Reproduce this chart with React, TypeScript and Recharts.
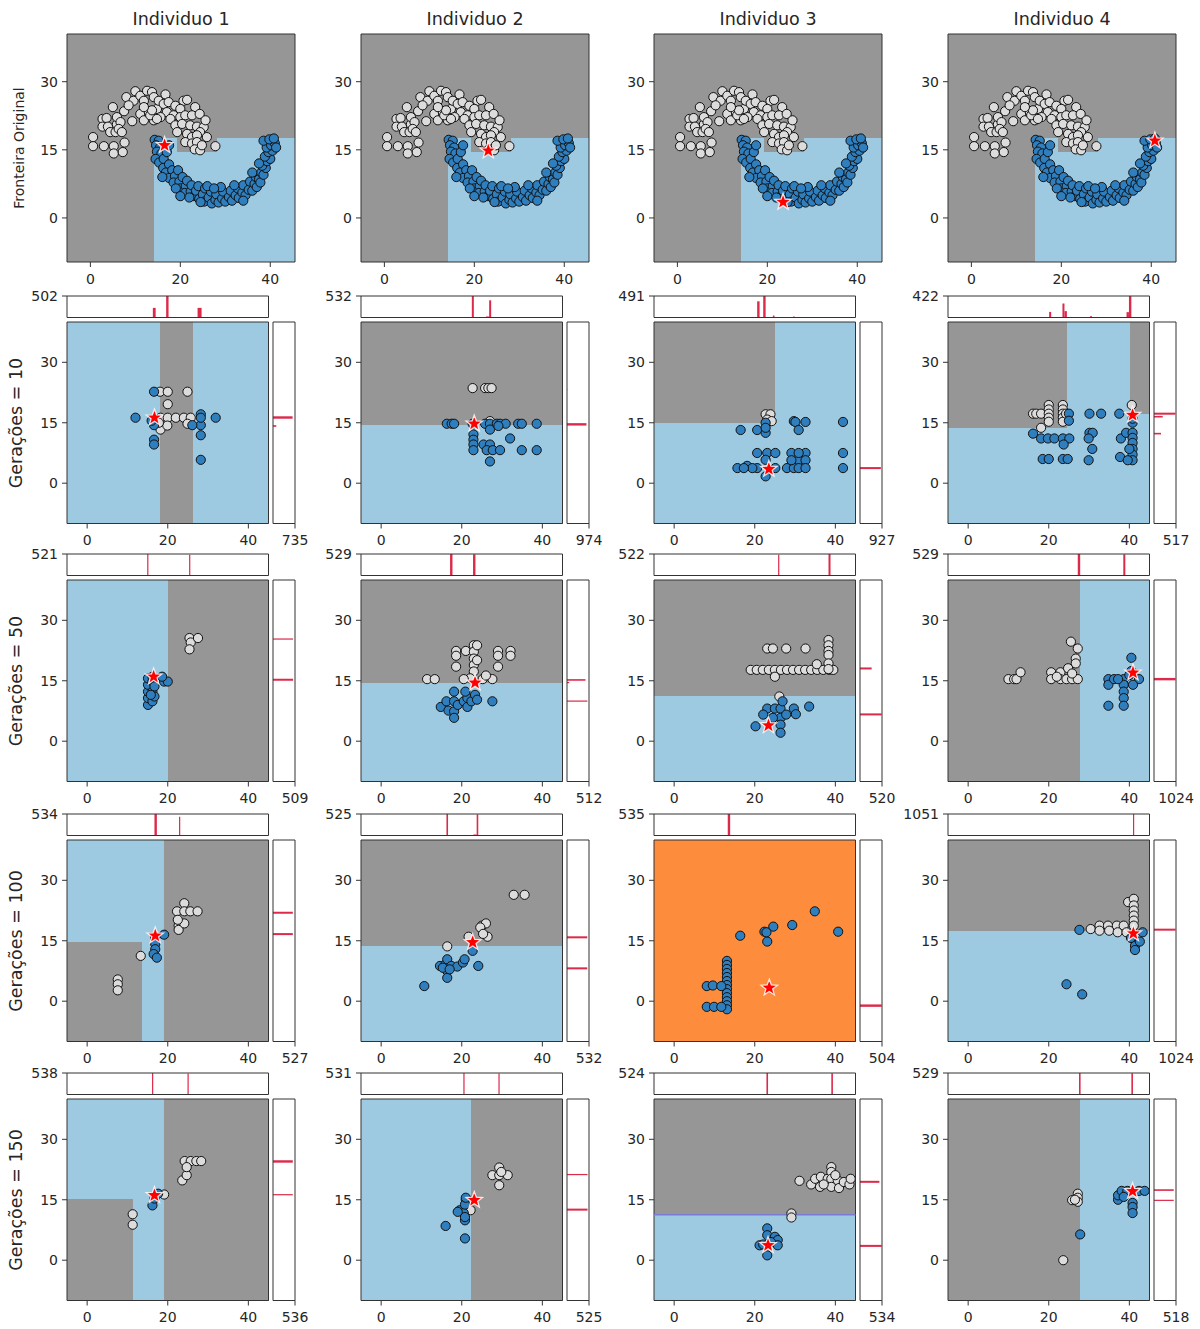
import React from 'react';
import { ScatterChart, Scatter, XAxis, YAxis, ReferenceArea, ReferenceLine } from 'recharts';

type Pt = [number, number];
type Patch = { x1?: number; x2?: number; y1?: number; y2?: number; c: string };
type Bin = [number, number, number];

// ---------- text ----------
const COLUMN_TITLES = ['Individuo 1', 'Individuo 2', 'Individuo 3', 'Individuo 4'];
const ROW_LABELS = ['Fronteira Original', 'Gerações = 10', 'Gerações = 50', 'Gerações = 100', 'Gerações = 150'];
const X_TICKS = [0, 20, 40];
const Y_TICKS = [0, 15, 30];

// ---------- row 1: original data set ----------
const moonWhite: Pt[] = [
  [0.6, 17.8], [0.6, 15.8], [3.0, 15.8], [5.2, 15.8], [5.2, 14.2], [7.2, 14.5], [7.6, 16.6], [2.7, 21.8], [3.6, 22.0],
  [2.7, 20.1], [3.9, 20.1], [4.4, 18.9], [5.6, 18.9], [5.9, 20.6], [5.0, 24.4], [5.9, 22.2], [6.7, 21.1], [6.3, 19.6],
  [7.0, 18.9], [8.0, 26.6], [9.6, 25.8], [10.0, 27.9], [11.1, 26.9], [12.6, 28.0], [13.7, 27.7], [11.9, 25.8], [14.1, 26.6],
  [9.3, 21.3], [11.1, 22.9], [11.9, 21.5], [13.0, 23.3], [14.1, 21.5], [14.8, 24.0], [15.2, 25.8], [16.7, 27.2], [16.3, 25.1],
  [17.4, 25.5], [18.9, 24.7], [17.0, 23.3], [18.5, 22.6], [20.7, 25.8], [21.5, 26.0], [20.0, 24.0], [15.6, 22.2], [17.8, 21.8],
  [20.0, 22.2], [21.1, 22.6], [23.3, 24.4], [22.6, 22.6], [24.3, 22.9], [18.9, 20.4], [20.4, 20.7], [22.2, 20.4], [23.7, 20.1],
  [25.2, 20.0], [25.6, 21.5], [24.4, 18.9], [25.9, 17.8], [19.3, 18.9], [21.5, 18.5], [22.6, 17.8], [23.7, 18.2], [21.1, 16.7],
  [22.6, 16.4], [23.7, 16.7], [23.2, 15.1], [24.4, 14.9], [27.8, 15.8], [24.8, 16.0], [13.3, 22.6], [14.8, 21.8], [13.7, 23.7],
  [11.9, 24.4], [7.5, 23.5], [8.5, 24.8],
];
const moonBlue: Pt[] = [
  [14.3, 17.2], [15.2, 17.0], [14.6, 16.0], [15.5, 15.5], [14.8, 14.6], [15.8, 14.2], [14.5, 13.0], [15.3, 12.2], [16.3, 13.0],
  [17.0, 14.5], [17.5, 16.0], [16.2, 11.0], [17.5, 11.8], [16.8, 10.0], [18.2, 10.5], [17.5, 8.8], [18.8, 9.2], [19.5, 10.5],
  [18.5, 7.8], [19.8, 8.0], [20.5, 9.0], [20.0, 6.5], [21.2, 7.0], [21.5, 8.2], [21.0, 5.5], [22.3, 5.8], [22.5, 7.2],
  [23.0, 4.8], [23.5, 6.0], [24.0, 7.0], [24.2, 4.2], [25.0, 5.2], [25.5, 6.5], [25.3, 3.6], [26.3, 4.5], [26.8, 5.8],
  [27.0, 3.2], [27.8, 4.0], [28.0, 5.2], [28.5, 3.4], [29.3, 4.3], [29.5, 5.8], [30.0, 3.6], [30.8, 4.6], [31.2, 6.0],
  [31.5, 3.8], [32.3, 5.0], [32.8, 6.5], [33.0, 4.4], [33.8, 5.6], [34.0, 7.2], [34.5, 5.0], [35.2, 6.2], [35.5, 8.0],
  [36.0, 6.0], [36.5, 7.5], [36.8, 9.0], [37.0, 6.8], [37.5, 8.5], [38.0, 10.0], [37.8, 7.8], [38.5, 9.5], [39.0, 11.0],
  [38.2, 11.5], [39.3, 12.5], [40.0, 13.0], [38.8, 13.5], [39.6, 14.5], [40.5, 14.8], [39.2, 15.5], [40.2, 16.0], [41.0, 16.5],
  [38.5, 17.0], [39.8, 17.3], [40.8, 17.5], [41.3, 15.5], [37.5, 12.0], [36.0, 10.0], [22.0, 4.5], [19.0, 6.5], [26.0, 7.0],
  [29.0, 6.8], [32.0, 7.2], [16.0, 9.0], [20.0, 4.8], [34.0, 3.8], [24.5, 3.5], [27.5, 6.5],
];
const originalStars: Pt[] = [[16.5, 16], [23.1, 14.8], [23.5, 3.5], [40.8, 17]];
const originalBackground = 'gray';
const originalPatches: Patch[] = [
  { x1: 14.2, y2: 17.7, c: 'blue' },
  { x1: 19.3, x2: 28.2, y1: 14.5, y2: 17.7, c: 'gray' },
];

// ---------- Gerações = 10 ----------
const gen10Background = ['blue', 'gray', 'blue', 'blue'];
const gen10Patches: Patch[][] = [
  [{ x1: 18.0, x2: 26.3, c: 'gray' }],
  [{ y2: 14.4, c: 'blue' }],
  [{ x2: 25.1, y1: 15.0, c: 'gray' }],
  [{ x2: 24.6, y1: 13.6, c: 'gray' }, { x1: 40.2, y1: 17.1, c: 'gray' }],
];
const gen10White: Pt[][] = [
  [[18.1, 22.7], [20, 22.7], [24.9, 22.7], [20, 19.6], [18.2, 16.25], [20, 16.25], [22, 16.25], [24, 16.25], [25.7, 16.25], [24.9, 14.75], [18.2, 13.3], [19.9, 14.3], [17.8, 15]],
  [[22.7, 23.6], [25.8, 23.6], [26.6, 23.6], [27.4, 23.6], [27, 15.4]],
  [[22.7, 17.1], [23.9, 17.1], [23.1, 15.8], [24.2, 15.4]],
  [[16.1, 17.25], [16.9, 17.25], [18.1, 17.25], [20, 19.4], [20, 18.3], [20, 17.25], [20, 16.25], [20, 15.25], [18.1, 13.75], [23.5, 19.4], [23.5, 18.3], [23.5, 17.25], [23.5, 16.25], [23.5, 15.25], [24.3, 17.25], [40.6, 19.4]],
];
const gen10Blue: Pt[][] = [
  [[12, 16.25], [16.6, 22.7], [16.6, 14.4], [16.6, 10.8], [16.6, 9.6], [28.2, 5.8], [28.2, 11.9], [28.2, 14.4], [28.2, 17.1], [28.2, 16.25], [31.9, 16.25], [26.1, 14.4], [16, 15.5]],
  [[16.3, 14.75], [17.5, 14.75], [18.1, 14.75], [22.7, 14.75], [25.8, 14.75], [27, 14.75], [28.7, 14.75], [29.5, 14.75], [30.9, 14.75], [34, 14.75], [34.9, 14.75], [38.6, 14.75], [27, 13.3], [29.1, 14.2], [22.9, 12.1], [22.9, 10.8], [22.9, 9.6], [22.9, 8.2], [25.4, 9.6], [27, 9.6], [26.2, 8.2], [27.7, 8.2], [29.5, 8.2], [32, 11.1], [34.9, 8.2], [38.6, 8.2], [27, 5.4]],
  [[16.5, 13.2], [20.6, 13.2], [22.7, 15], [22.7, 12.5], [22.7, 13.75], [29.7, 15.4], [30.1, 15.2], [30.9, 13.2], [32.6, 15.2], [41.9, 15.2], [41.9, 7.5], [41.9, 3.75], [20.6, 7.5], [23.1, 7.5], [25.1, 7.5], [29.1, 7.5], [32.6, 7.5], [30.9, 5.7], [32.6, 5.7], [15.7, 3.75], [18.1, 4.3], [20.6, 3.75], [22.7, 1.7], [25.1, 3.75], [28, 3.75], [29.7, 3.75], [30.9, 3.75], [32.6, 3.75], [19.4, 3.75], [17.3, 3.75], [22.7, 5.8], [30.9, 7.5], [29.1, 5.7]],
  [[16.1, 12.3], [18.1, 11.1], [19.8, 11.1], [21.4, 11.1], [23.5, 11.1], [25.1, 11.1], [23.7, 9.6], [18.5, 6], [20, 6], [23.5, 6], [24.7, 6], [30.1, 17.25], [33, 17.25], [30.1, 12.5], [30.9, 12.5], [29.9, 11.1], [30.8, 8.5], [29.9, 5.7], [37.5, 17.25], [37.9, 11.1], [37.7, 6.5], [39.2, 12.5], [40.8, 12.5], [40.8, 11.25], [40.8, 10], [40.8, 8.5], [40.8, 7.1], [40.8, 5.7], [39.6, 5.7], [40, 8.5], [40.8, 15], [40.8, 16], [25.0, 17.25], [25.0, 15.5]],
];
const gen10Star: Pt[] = [[16.7, 16.25], [23.1, 14.75], [23.5, 3.5], [40.8, 16.9]];
const gen10TopHist: Bin[][] = [
  [[16.3, 17.0, 225], [19.6, 20.2, 502], [27.4, 28.4, 225]],
  [[22.5, 23.0, 532], [26.8, 27.3, 425], [26.0, 26.8, 25]],
  [[20.6, 21.2, 370], [22.1, 22.7, 491], [24.5, 24.9, 45], [29.5, 29.9, 20]],
  [[20.1, 20.6, 110], [23.4, 23.9, 275], [23.9, 24.5, 125], [30.3, 30.7, 30], [39.3, 39.9, 105], [39.9, 40.5, 422]],
];
const gen10TopMax = [502, 532, 491, 422];
const gen10RightHist: Bin[][] = [
  [[16.0, 16.6, 655], [14.0, 14.4, 110]],
  [[14.3, 14.9, 860], [23.1, 23.4, 12]],
  [[3.5, 4.0, 880]],
  [[17.0, 17.5, 500], [16.3, 16.7, 205], [12.1, 12.5, 165]],
];
const gen10RightMax = [735, 974, 927, 517];

// ---------- Gerações = 50 ----------
const gen50Background = ['blue', 'gray', 'gray', 'gray'];
const gen50Patches: Patch[][] = [
  [{ x1: 20.0, c: 'gray' }],
  [{ y2: 14.5, c: 'blue' }],
  [{ y2: 11.1, c: 'blue' }],
  [{ x1: 27.7, c: 'blue' }],
];
const gen50White: Pt[][] = [
  [[25.4, 25.6], [25.7, 24.5], [25.4, 22.8], [27.5, 25.6]],
  [[11.4, 15.4], [13.3, 15.4], [18.6, 22.4], [18.6, 21.2], [18.6, 18.5], [21, 22.4], [23, 23.8], [23, 22.2], [23, 20.5], [23, 18.9], [23, 17.3], [22.1, 15.6], [25.2, 15.4], [27.6, 15.4], [26, 16.3], [20.5, 15.4], [29, 22.4], [29, 21.2], [29, 18.5], [32.1, 22.4], [32.1, 21.2], [23.8, 23.8], [23.8, 20.1]],
  [[19, 17.7], [20.5, 17.7], [22, 17.7], [23.5, 17.7], [25, 17.7], [26.5, 17.7], [28, 17.7], [29.5, 17.7], [31, 17.7], [32.5, 17.7], [34, 17.7], [35.5, 17.7], [37, 17.7], [38.5, 17.7], [39.5, 17.7], [23.1, 23], [24.5, 23], [27.8, 23], [32.6, 23], [38.3, 25.1], [38.3, 23.8], [38.3, 22.4], [38.3, 21.4], [38.3, 19.3], [35.4, 19.1], [25, 16], [38.3, 17.9], [26.1, 11.1]],
  [[10, 15.4], [11.4, 15.4], [12, 15.4], [13, 17.1], [20.6, 17.1], [20.6, 15.4], [22.9, 17.1], [22.9, 15.4], [24.4, 15.4], [25.8, 15.4], [27.2, 15.4], [25.5, 24.7], [27.2, 23], [26.7, 20.5], [26.7, 19.3], [24.8, 18.1], [25.8, 16.8], [22, 16]],
];
const gen50Blue: Pt[][] = [
  [[15.1, 9.0], [15.1, 10.7], [15.1, 12.3], [15.1, 14], [15.1, 15.6], [16.2, 9.9], [16.2, 12.3], [16.2, 14.8], [16.2, 16], [16.7, 11.1], [16.7, 13.6], [15.8, 11.5], [19.1, 14.8], [20, 14.8], [18.6, 16]],
  [[14.8, 8.5], [16.2, 9.9], [16.7, 7.6], [18.1, 12.3], [18.1, 9.9], [18.1, 7.4], [18.1, 5.8], [19, 9], [20.5, 9.9], [21.4, 8.5], [21.4, 10.7], [22.4, 9.9], [23.3, 11.5], [23.8, 10.3], [27.6, 9.9], [20.9, 12.3]],
  [[20.2, 3.7], [23.1, 8.1], [25, 8.1], [26.4, 8.1], [22.1, 6.6], [26.4, 5.8], [26.4, 4.1], [26.4, 2.1], [26.9, 9.9], [29.7, 8.1], [30.2, 6.7], [33.5, 8.6], [27.8, 6.6], [24.5, 5.8]],
  [[34.8, 15.4], [34.8, 14], [36.2, 15.4], [34.8, 8.8], [38.6, 15.4], [38.6, 14], [38.6, 12.3], [38.6, 10.7], [38.6, 8.8], [40.5, 20.7], [40.5, 17.4], [42.4, 15.4], [40.9, 14], [40, 16.4], [37.2, 15.4]],
];
const gen50Star: Pt[] = [[16.5, 16], [23.3, 14.5], [23.4, 3.9], [40.9, 17]];
const gen50TopHist: Bin[][] = [
  [[14.9, 15.2, 521], [25.3, 25.6, 505]],
  [[17.1, 17.7, 529], [22.8, 23.4, 520]],
  [[25.8, 26.1, 505], [38.3, 38.8, 522]],
  [[27.2, 27.8, 529], [38.5, 39.0, 520]],
];
const gen50TopMax = [521, 529, 522, 529];
const gen50RightHist: Bin[][] = [
  [[25.2, 25.5, 465], [15.0, 15.5, 465]],
  [[15.0, 15.4, 430], [14.4, 14.7, 50], [9.8, 10.1, 475]],
  [[17.8, 18.3, 275], [6.4, 6.9, 510]],
  [[15.1, 15.7, 1000]],
];
const gen50RightMax = [509, 512, 520, 1024];

// ---------- Gerações = 100 ----------
const gen100Background = ['gray', 'gray', 'orange', 'gray'];
const gen100Patches: Patch[][] = [
  [{ x1: 13.7, x2: 19.0, c: 'blue' }, { x2: 13.7, y1: 14.75, c: 'blue' }],
  [{ y2: 13.6, c: 'blue' }],
  [],
  [{ y2: 17.3, c: 'blue' }],
];
const gen100White: Pt[][] = [
  [[13.3, 11.25], [7.6, 5.4], [7.6, 4.2], [7.6, 2.7], [22.3, 22.3], [24.1, 24.3], [24.1, 22.3], [25.6, 22.3], [27.4, 22.3], [22.7, 18.75], [22.7, 17.7], [24.1, 19.3], [22.5, 20.2]],
  [[32.9, 26.4], [35.6, 26.4], [16.4, 13.6], [25, 18.75], [26, 19.3], [24.6, 18.3], [26.4, 16], [25.3, 16.7], [21.7, 16]],
  [],
  [[30.4, 17.9], [32.6, 18.75], [34.7, 18.75], [36.9, 18.75], [38.6, 18.75], [32.6, 17.5], [35, 17.5], [37.1, 17.1], [39.3, 17.1], [39.7, 24.6], [41.1, 25.4], [41.1, 23.75], [41.1, 22.5], [41.1, 21.25], [41.1, 20], [41.1, 18.75]],
];
const gen100Blue: Pt[][] = [
  [[16.9, 15.8], [16.9, 14.2], [16.9, 12.9], [16.5, 11.7], [17.3, 10.8], [19.1, 16.5]],
  [[10.7, 3.75], [14.6, 8.75], [16, 9.2], [16.4, 10.4], [16.4, 7.5], [16.4, 5.8], [17.4, 8.75], [18.9, 8.6], [20.3, 9.6], [20.7, 10.4], [22.7, 12.5], [24.1, 8.75], [15.3, 8.3], [17, 7.9]],
  [[16.4, 16.25], [22.4, 17.25], [23.1, 14.8], [24.6, 18.5], [29.3, 18.9], [34.9, 22.3], [40.7, 17.25], [22.9, 17.1], [13.1, 10], [13.1, 9], [13.1, 8], [13.1, 7], [13.1, 6], [13.1, 5], [13.1, 4], [13.1, 3], [13.1, 2], [13.1, 1], [13.1, 0], [13.1, -1], [13.1, -2], [8.1, 3.75], [9.6, 3.9], [11.7, 3.75], [8.1, -1.4], [9.9, -1.4], [11.7, -1.4]],
  [[27.6, 17.7], [24.4, 4.2], [28.3, 1.7], [41.4, 15], [41.4, 13.75], [41.4, 12.7], [42.6, 14.8], [43.3, 17.1], [40.4, 15.7]],
];
const gen100Star: Pt[] = [[16.9, 16.25], [22.7, 14.6], [23.6, 3.3], [41, 16.8]];
const gen100TopHist: Bin[][] = [
  [[16.7, 17.3, 534], [22.8, 23.1, 465]],
  [[16.2, 16.6, 525], [23.7, 24.1, 515], [22.9, 23.7, 25]],
  [[13.3, 13.9, 535]],
  [[40.9, 41.2, 1051]],
];
const gen100TopMax = [534, 525, 535, 1051];
const gen100RightHist: Bin[][] = [
  [[21.7, 22.2, 475], [16.4, 16.9, 475]],
  [[15.6, 16.1, 490], [7.9, 8.4, 490]],
  [[-1.4, -0.8, 495]],
  [[17.5, 18.0, 1000]],
];
const gen100RightMax = [527, 532, 504, 1024];

// ---------- Gerações = 150 ----------
const gen150Background = ['gray', 'blue', 'gray', 'gray'];
const gen150Patches: Patch[][] = [
  [{ x1: 11.5, x2: 19.1, c: 'blue' }, { x2: 11.5, y1: 15.1, c: 'blue' }],
  [{ x1: 22.2, c: 'gray' }],
  [{ y2: 11.3, c: 'blue' }],
  [{ x1: 27.7, c: 'blue' }],
];
const gen150Boundary: (number | null)[] = [null, null, 11.3, null];
const gen150White: Pt[][] = [
  [[11.3, 11.4], [11.3, 8.8], [23.6, 19.8], [24.7, 21.1], [24.2, 24.6], [25.7, 24.6], [27.1, 24.6], [28.3, 24.6], [24.7, 23.1], [19.1, 16.3]],
  [[27.6, 21.1], [29.3, 23], [29.3, 21.1], [29.3, 18.6], [31.4, 21.1], [29.8, 21.9], [22.2, 12.4], [21, 15]],
  [[31.1, 19.7], [34, 18.8], [35, 20.2], [36.4, 20.7], [36.2, 18.2], [38.1, 20.2], [39, 23.1], [39, 21.9], [39, 20.2], [39, 18.2], [40.6, 19.8], [40.9, 17.9], [42.1, 19.4], [43.5, 18.8], [43.8, 20.2], [40, 21.1], [29.1, 11.6], [29.1, 10.6], [37.1, 18.8]],
  [[23.6, 0], [25.8, 14.9], [27.2, 16.5], [27.2, 15.5], [27.2, 14.5], [26.5, 15]],
];
const gen150Blue: Pt[][] = [
  [[16.2, 13.6], [16.7, 15.3], [17.6, 16.5]],
  [[16, 8.5], [19.5, 12.4], [20.5, 11.7], [20.8, 9.9], [20.8, 10.7], [20.8, 13.8], [21, 15.5], [20.8, 5.4], [19, 12]],
  [[21.2, 3.7], [23.1, 7.9], [23.1, 6.2], [25, 5.8], [25.7, 5], [25.7, 3.7], [23.1, 1.2], [22.1, 3.9], [24, 4.5]],
  [[27.8, 6.4], [37.2, 15], [37.2, 16.1], [38.1, 17.2], [39.5, 17.2], [40.8, 14.2], [40.8, 13.2], [40.8, 11.7], [42.4, 17.2], [43.8, 17.2], [38.6, 15.7]],
];
const gen150Star: Pt[] = [[16.7, 16.1], [23.1, 14.9], [23.3, 3.7], [40.8, 17.1]];
const gen150TopHist: Bin[][] = [
  [[16.1, 16.4, 538], [24.9, 25.2, 525]],
  [[20.4, 20.7, 531], [29.1, 29.4, 520]],
  [[22.9, 23.3, 524], [39.0, 39.4, 515]],
  [[27.5, 27.9, 529], [40.5, 40.9, 520]],
];
const gen150TopMax = [538, 531, 524, 529];
const gen150RightHist: Bin[][] = [
  [[24.2, 24.8, 482], [16.1, 16.4, 482]],
  [[21.1, 21.4, 490], [12.3, 12.8, 490]],
  [[19.2, 19.7, 470], [3.3, 3.8, 525]],
  [[17.2, 17.6, 465], [14.7, 15.0, 465]],
];
const gen150RightMax = [536, 525, 534, 518];

// ---------- styling / layout ----------
const REGION: Record<string, string> = { gray: '#969696', blue: '#9ecae1', orange: '#fd8d3c' };
const WHITE_PT = '#dcdcdc';
const BLUE_PT = '#2f7fbf';
const HIST = '#dc2a4a';
const EDGE = '#333333';
const TXT = '#262626';
const FONT = '"DejaVu Sans", "Liberation Sans", sans-serif';

const COL_LEFT = [67, 361, 654, 948];
const ROW1_TOP = 34;
const ROW1_SIZE = 228;
const GEN_TOP = [322, 580, 840, 1099];
const MAIN = 201.5;
const HIST_H = 21.5;
const X_DOMAIN_1: [number, number] = [-5.2, 45.5];
const Y_DOMAIN_1: [number, number] = [-9.7, 40.5];
const X_DOMAIN: [number, number] = [-5, 45];
const Y_DOMAIN: [number, number] = [-10, 40];

const toObj = (a: Pt[]) => a.map(([x, y]) => ({ x, y }));

const makeDot = (fill: string) => (p: any) => (
  <circle cx={p.cx} cy={p.cy} r={4.6} fill={fill} stroke="#111" strokeWidth={1} />
);
const starShape = (p: any) => {
  const pts: string[] = [];
  for (let i = 0; i < 10; i++) {
    const a = -Math.PI / 2 + (i * Math.PI) / 5;
    const rr = i % 2 === 0 ? 8.6 : 3.6;
    pts.push(`${p.cx + rr * Math.cos(a)},${p.cy + rr * Math.sin(a)}`);
  }
  return <polygon points={pts.join(' ')} fill="#ff0000" stroke="#ffffff" strokeOpacity={0.85} strokeWidth={1.3} strokeLinejoin="miter" />;
};
const whiteDot = makeDot(WHITE_PT);
const blueDot = makeDot(BLUE_PT);

const tickStyle = { fill: TXT, fontSize: 14 };

function MainPanel(props: {
  left: number; top: number; size: number; xd: [number, number]; yd: [number, number];
  bg: string; patches: Patch[]; white: Pt[]; blue: Pt[]; star: Pt; boundary?: number | null;
}) {
  const { left, top, size, xd, yd, bg, patches, white, blue, star, boundary } = props;
  const PL = 52, PT = 8, PR = 8, PB = 34;
  return (
    <div style={{ position: 'absolute', left: left - PL, top: top - PT }}>
      <ScatterChart width={size + PL + PR} height={size + PT + PB} margin={{ top: PT, right: PR, bottom: 0, left: 0 }}>
        <XAxis type="number" dataKey="x" domain={xd} ticks={X_TICKS} interval={0} allowDataOverflow height={PB}
          tickSize={5} tickMargin={7} axisLine={false} tickLine={{ stroke: EDGE }} tick={tickStyle} />
        <YAxis type="number" dataKey="y" domain={yd} ticks={Y_TICKS} interval={0} allowDataOverflow width={PL}
          tickSize={5} tickMargin={4} axisLine={false} tickLine={{ stroke: EDGE }} tick={tickStyle} />
        <ReferenceArea x1={xd[0]} x2={xd[1]} y1={yd[0]} y2={yd[1]} fill={REGION[bg]} fillOpacity={1} stroke="none" shapeRendering="crispEdges" />
        {patches.map((p, i) => (
          <ReferenceArea key={i} x1={p.x1 ?? xd[0]} x2={p.x2 ?? xd[1]} y1={p.y1 ?? yd[0]} y2={p.y2 ?? yd[1]}
            fill={REGION[p.c]} fillOpacity={1} stroke="none" ifOverflow="hidden" shapeRendering="crispEdges" />
        ))}
        {boundary != null && <ReferenceLine y={boundary} stroke="#7b7bd6" strokeWidth={1.5} />}
        <ReferenceArea x1={xd[0]} x2={xd[1]} y1={yd[0]} y2={yd[1]} fill="none" stroke={EDGE} strokeWidth={1} />
        <Scatter data={toObj(white)} shape={whiteDot} isAnimationActive={false} />
        <Scatter data={toObj(blue)} shape={blueDot} isAnimationActive={false} />
        <Scatter data={toObj([star])} shape={starShape} isAnimationActive={false} />
      </ScatterChart>
    </div>
  );
}

function TopHist(props: { left: number; top: number; w: number; h: number; xd: [number, number]; bins: Bin[]; max: number }) {
  const { left, top, w, h, xd, bins, max } = props;
  const PL = 52, PT = 9, PR = 4, PB = 2;
  return (
    <div style={{ position: 'absolute', left: left - PL, top: top - PT }}>
      <ScatterChart width={w + PL + PR} height={h + PT + PB} margin={{ top: PT, right: PR, bottom: PB, left: 0 }}>
        <XAxis type="number" dataKey="x" domain={xd} allowDataOverflow hide />
        <YAxis type="number" dataKey="y" domain={[0, max]} ticks={[max]} interval={0} allowDataOverflow width={PL}
          tickSize={5} tickMargin={4} axisLine={false} tickLine={{ stroke: EDGE }} tick={tickStyle} />
        {bins.map(([x0, x1, c], i) => (
          <ReferenceArea key={i} x1={x0} x2={x1} y1={0} y2={c} fill={HIST} fillOpacity={1} stroke="none" />
        ))}
        <ReferenceArea x1={xd[0]} x2={xd[1]} y1={0} y2={max} fill="none" stroke={EDGE} strokeWidth={1} />
        <Scatter data={[]} isAnimationActive={false} />
      </ScatterChart>
    </div>
  );
}

function RightHist(props: { left: number; top: number; w: number; h: number; yd: [number, number]; bins: Bin[]; max: number }) {
  const { left, top, w, h, yd, bins, max } = props;
  const PL = 2, PT = 2, PR = 22, PB = 34;
  return (
    <div style={{ position: 'absolute', left: left - PL, top: top - PT }}>
      <ScatterChart width={w + PL + PR} height={h + PT + PB} margin={{ top: PT, right: PR, bottom: 0, left: PL }}>
        <XAxis type="number" dataKey="x" domain={[0, max]} ticks={[max]} interval={0} allowDataOverflow height={PB}
          tickSize={5} tickMargin={7} axisLine={false} tickLine={{ stroke: EDGE }} tick={tickStyle} />
        <YAxis type="number" dataKey="y" domain={yd} allowDataOverflow hide />
        {bins.map(([y0, y1, c], i) => (
          <ReferenceArea key={i} x1={0} x2={c} y1={y0} y2={y1} fill={HIST} fillOpacity={1} stroke="none" />
        ))}
        <ReferenceArea x1={0} x2={max} y1={yd[0]} y2={yd[1]} fill="none" stroke={EDGE} strokeWidth={1} />
        <Scatter data={[]} isAnimationActive={false} />
      </ScatterChart>
    </div>
  );
}

const NO_LINES: (number | null)[] = [null, null, null, null];
const GENS = [
  { bg: gen10Background, patches: gen10Patches, white: gen10White, blue: gen10Blue, star: gen10Star, top: gen10TopHist, topMax: gen10TopMax, right: gen10RightHist, rightMax: gen10RightMax, boundary: NO_LINES },
  { bg: gen50Background, patches: gen50Patches, white: gen50White, blue: gen50Blue, star: gen50Star, top: gen50TopHist, topMax: gen50TopMax, right: gen50RightHist, rightMax: gen50RightMax, boundary: NO_LINES },
  { bg: gen100Background, patches: gen100Patches, white: gen100White, blue: gen100Blue, star: gen100Star, top: gen100TopHist, topMax: gen100TopMax, right: gen100RightHist, rightMax: gen100RightMax, boundary: NO_LINES },
  { bg: gen150Background, patches: gen150Patches, white: gen150White, blue: gen150Blue, star: gen150Star, top: gen150TopHist, topMax: gen150TopMax, right: gen150RightHist, rightMax: gen150RightMax, boundary: gen150Boundary },
];

function RotLabel({ text, cx, cy, size }: { text: string; cx: number; cy: number; size: number }) {
  return (
    <div style={{
      position: 'absolute', left: cx, top: cy, transform: 'translate(-50%, -50%) rotate(-90deg)',
      whiteSpace: 'nowrap', fontSize: size, color: TXT, lineHeight: 1,
    }}>{text}</div>
  );
}

export default function App() {
  return (
    <div style={{ position: 'absolute', left: 0, top: 0, width: 1200, height: 1329, background: '#ffffff', fontFamily: FONT, overflow: 'hidden' }}>
      {COLUMN_TITLES.map((t, c) => (
        <div key={t} style={{ position: 'absolute', left: COL_LEFT[c], top: 9, width: ROW1_SIZE, textAlign: 'center', fontSize: 17.5, color: TXT, lineHeight: 1.2 }}>{t}</div>
      ))}
      <RotLabel text={ROW_LABELS[0]} cx={19} cy={ROW1_TOP + ROW1_SIZE / 2} size={14} />
      {GEN_TOP.map((t, r) => (
        <RotLabel key={r} text={ROW_LABELS[r + 1]} cx={17} cy={t + MAIN / 2} size={17.5} />
      ))}
      {COL_LEFT.map((l, c) => (
        <MainPanel key={`o${c}`} left={l} top={ROW1_TOP} size={ROW1_SIZE} xd={X_DOMAIN_1} yd={Y_DOMAIN_1}
          bg={originalBackground} patches={originalPatches} white={moonWhite} blue={moonBlue} star={originalStars[c]} />
      ))}
      {GENS.map((g, r) => COL_LEFT.map((l, c) => (
        <React.Fragment key={`g${r}-${c}`}>
          <TopHist left={l} top={GEN_TOP[r] - 26} w={MAIN} h={HIST_H} xd={X_DOMAIN} bins={g.top[c]} max={g.topMax[c]} />
          <MainPanel left={l} top={GEN_TOP[r]} size={MAIN} xd={X_DOMAIN} yd={Y_DOMAIN}
            bg={g.bg[c]} patches={g.patches[c]} white={g.white[c]} blue={g.blue[c]} star={g.star[c]} boundary={g.boundary[c]} />
          <RightHist left={l + 206} top={GEN_TOP[r]} w={22} h={MAIN} yd={Y_DOMAIN} bins={g.right[c]} max={g.rightMax[c]} />
        </React.Fragment>
      )))}
    </div>
  );
}
